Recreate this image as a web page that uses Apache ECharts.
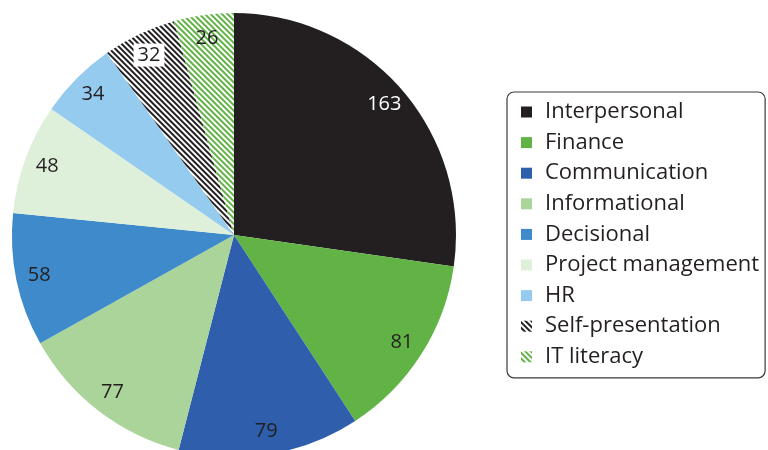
<!DOCTYPE html>
<html>
<head>
<meta charset="utf-8">
<script src="https://cdn.jsdelivr.net/npm/echarts@6/dist/echarts.min.js"></script>
<style>
html, body { margin: 0; padding: 0; background: #fff; }
#chart { width: 768px; height: 450px; }
</style>
</head>
<body>
<div id="chart"></div>
<script>
var categories = ['Interpersonal', 'Finance', 'Communication', 'Informational', 'Decisional',
                  'Project management', 'HR', 'Self-presentation', 'IT literacy'];
var counts = [163, 81, 79, 77, 58, 48, 34, 32, 26];
var sliceColors = ['#231f20', '#62b346', '#2f5fac', '#aad49a', '#3e8acb',
                   '#dff0da', '#94cbee', '#ffffff', '#ffffff'];
var labelColors = ['#ffffff', '#231f20', '#231f20', '#231f20', '#231f20',
                   '#231f20', '#231f20', '#231f20', '#231f20'];

var FONT = '"Open Sans", "DejaVu Sans", sans-serif';

function stripes(color) {
    return {
        symbol: 'rect',
        symbolSize: 1,
        color: color,
        backgroundColor: '#ffffff',
        dashArrayX: [[1, 0]],
        dashArrayY: [1.6, 1.6],
        rotation: Math.PI / 4
    };
}

var pieData = categories.map(function (name, i) {
    var item = { name: name, value: counts[i], itemStyle: { color: sliceColors[i] } };
    if (name === 'Self-presentation') item.itemStyle.decal = stripes('#231f20');
    if (name === 'IT literacy') item.itemStyle.decal = stripes('#62b346');
    return item;
});

// transparent ring, only used to put the value labels near the rim
var labelData = categories.map(function (name, i) {
    var lab = { color: labelColors[i] };
    if (name === 'Self-presentation') {
        lab.backgroundColor = '#ffffff';
        lab.padding = [2, 4, 1, 4];
    }
    return { name: name, value: counts[i], label: lab };
});

var chart = echarts.init(document.getElementById('chart'));
chart.setOption({
    animation: false,
    legend: {
        orient: 'vertical',
        left: 507,
        top: 92,
        padding: [9, 6, 10, 14],
        itemGap: 8.6,
        itemWidth: 11,
        itemHeight: 11,
        icon: 'rect',
        borderColor: '#3a3a3a',
        borderWidth: 1.2,
        borderRadius: 7,
        data: categories,
        textStyle: {
            fontFamily: FONT,
            fontSize: 22,
            lineHeight: 22,
            color: '#231f20',
            padding: [0, 0, 0, 8]
        }
    },
    series: [{
        type: 'pie',
        center: [234, 235],
        radius: [0, 222],
        startAngle: 90,
        clockwise: true,
        silent: true,
        label: { show: false },
        labelLine: { show: false },
        data: pieData
    }, {
        type: 'pie',
        center: [234, 235],
        radius: [170, 222],
        startAngle: 90,
        clockwise: true,
        silent: true,
        itemStyle: { color: 'rgba(0,0,0,0)' },
        label: {
            show: true,
            position: 'inside',
            formatter: '{c}',
            fontFamily: FONT,
            fontSize: 20
        },
        labelLine: { show: false },
        data: labelData
    }]
});
</script>
</body>
</html>
